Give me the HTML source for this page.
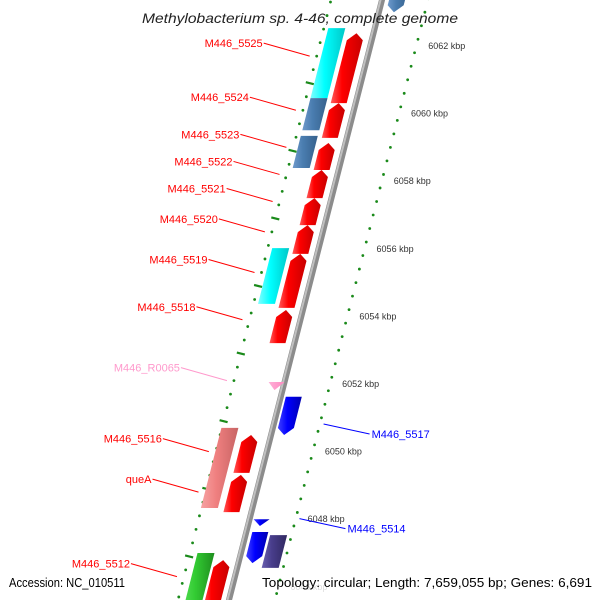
<!DOCTYPE html>
<html><head><meta charset="utf-8">
<style>
html,body{margin:0;padding:0;background:#fff;}
svg{display:block;font-family:"Liberation Sans",sans-serif;}
</style></head>
<body>
<svg id="map" width="600" height="600" viewBox="0 0 600 600" xmlns="http://www.w3.org/2000/svg">
<defs>
<linearGradient id="gRed" x1="0" x2="1" y1="0" y2="0"><stop offset="0" stop-color="#ff5a5a"/><stop offset="0.35" stop-color="#ff0000"/><stop offset="1" stop-color="#c80000"/></linearGradient>
<linearGradient id="gCyan" x1="0" x2="1"><stop offset="0" stop-color="#7fffff"/><stop offset="0.4" stop-color="#00ffff"/><stop offset="1" stop-color="#00c8c8"/></linearGradient>
<linearGradient id="gSteel" x1="0" x2="1"><stop offset="0" stop-color="#6f9acb"/><stop offset="0.4" stop-color="#4a7db0"/><stop offset="1" stop-color="#36618c"/></linearGradient>
<linearGradient id="gSalmon" x1="0" x2="1"><stop offset="0" stop-color="#f6a3a3"/><stop offset="0.4" stop-color="#f08080"/><stop offset="1" stop-color="#c86464"/></linearGradient>
<linearGradient id="gGreen" x1="0" x2="1"><stop offset="0" stop-color="#55dd55"/><stop offset="0.4" stop-color="#33cc33"/><stop offset="1" stop-color="#1f8f1f"/></linearGradient>
<linearGradient id="gBlue" x1="0" x2="1"><stop offset="0" stop-color="#4040ff"/><stop offset="0.4" stop-color="#0000ff"/><stop offset="1" stop-color="#0000b0"/></linearGradient>
<linearGradient id="gPurple" x1="0" x2="1"><stop offset="0" stop-color="#6a5fb0"/><stop offset="0.4" stop-color="#483d8b"/><stop offset="1" stop-color="#302860"/></linearGradient>
<linearGradient id="gPink" x1="0" x2="1"><stop offset="0" stop-color="#ffb0d8"/><stop offset="1" stop-color="#ff88c0"/></linearGradient>
</defs>
<g id="layer"></g>
<text x="142" y="23" textLength="316" lengthAdjust="spacingAndGlyphs" font-size="14" font-style="italic" fill="#222">Methylobacterium sp. 4-46, complete genome</text>
<text x="9" y="587" textLength="116" lengthAdjust="spacingAndGlyphs" font-size="13" fill="#000">Accession: NC_010511</text>
<text x="262" y="587" textLength="330" lengthAdjust="spacingAndGlyphs" font-size="13" fill="#000">Topology: circular; Length: 7,659,055 bp; Genes: 6,691</text>
</svg>
<script>
// Feature data (kbp)
const featNames = ["top-blue","M446_5525-cog","M446_5524-cog","M446_5523-cog","M446_5525","M446_5524","M446_5523","M446_5522","M446_5521","M446_5520","M446_5519","M446_5519-cog","M446_5518","M446_R0065","M446_5517","M446_5516-cog","M446_5516","queA","M446_5514-tri","M446_5514","M446_5514-cog","M446_5512-cog","M446_5512"];
const featStart = [6063.0,6060.46,6059.51,6058.39,6060.31,6059.28,6058.33,6057.50,6056.70,6055.85,6054.25,6054.37,6053.21,6051.82,6050.49,6048.33,6049.37,6048.21,6047.80,6046.70,6046.56,6045.2,6045.2];
const featEnd   = [6063.8,6062.53,6060.46,6059.34,6062.38,6060.31,6059.13,6058.33,6057.50,6056.70,6055.85,6056.02,6054.19,6052.06,6051.62,6050.70,6050.49,6049.31,6048.00,6047.62,6047.53,6047.0,6046.79];
const featLane  = [15,-38,-38,-38,-17,-17,-17,-17,-17,-17,-17,-38,-17,-8,13,-43,-20,-20,12,14,33,-35,-16];
const featKind  = ["rev","box","box","box","fwd","fwd","fwd","fwd","fwd","fwd","fwd","box","fwd","tri","rev","box","fwd","fwd","tri","rev","box","box","fwd"];
const featFill  = ["gSteel","gCyan","gSteel","gSteel","gRed","gRed","gRed","gRed","gRed","gRed","gRed","gCyan","gRed","gPink","gBlue","gSalmon","gRed","gRed","gBlue","gBlue","gPurple","gGreen","gRed"];
// Labels
const labelText = ["M446_5525","M446_5524","M446_5523","M446_5522","M446_5521","M446_5520","M446_5519","M446_5518","M446_R0065","M446_5516","queA","M446_5512","M446_5517","M446_5514"];
const labelKbp  = [6061.7,6060.1,6059.0,6058.2,6057.4,6056.5,6055.3,6053.9,6052.1,6050.0,6048.8,6046.3,6050.55,6047.75];
const labelSide = ["L","L","L","L","L","L","L","L","L","L","L","L","R","R"];
const labelColor= ["#ff0000","#ff0000","#ff0000","#ff0000","#ff0000","#ff0000","#ff0000","#ff0000","#ff99cc","#ff0000","#ff0000","#ff0000","#0000ff","#0000ff"];
// Ruler
const rulerMajorKbp = [6064,6062,6060,6058,6056,6054,6052,6050,6048,6046];
const rulerLabels = ["6064 kbp","6062 kbp","6060 kbp","6058 kbp","6056 kbp","6054 kbp","6052 kbp","6050 kbp","6048 kbp","6046 kbp"];

const NS="http://www.w3.org/2000/svg";
const layer=document.getElementById('layer');
function yOf(k){return 46+(6062-k)*33.8;}
function bx(y){return 382-0.255*y;}
function mk(tag,attrs){const e=document.createElementNS(NS,tag);for(const a in attrs)e.setAttribute(a,attrs[a]);layer.appendChild(e);return e;}

function ring(off,phase,major,name){
  for(let k=6065;k>=6044;k-=0.4){
    const kk=Math.round((k+phase)*10)/10;
    const y=yOf(kk); if(y<-5||y>605)continue;
    const x=bx(y)+off;
    const isMaj=major.some(m=>Math.abs(m-kk)<0.05);
    let e;
    if(isMaj){e=mk('line',{x1:x-4,y1:y-1,x2:x+4,y2:y+1,stroke:'#1a8a1a','stroke-width':2.2});}
    else{e=mk('circle',{cx:x,cy:y,r:1.4,fill:'#1a8a1a'});}
    
    
  }
}
ring(46,0,rulerMajorKbp,'right-ruler-tick');
ring(-51,-0.12,[6060.88,6058.88,6056.88,6054.88,6052.88,6050.88,6048.88,6046.88,6044.88],'left-ruler-tick');
rulerMajorKbp.forEach((k,i)=>{
  const y=yOf(k); if(y<0||y>600)return;
  const t=mk('text',{x:bx(y)+58,y:y+3,'font-size':9,fill:(y>580?'#ddd':'#333')});
  t.textContent=rulerLabels[i];
  
  
});

let d='';for(let y=-10;y<=610;y+=10){d+=(y===-10?'M':'L')+bx(y)+','+y;}
const bb=mk('path',{d:d,stroke:'#8c8c8c','stroke-width':6,fill:'none'});


const bb2=mk('path',{d:d,stroke:'#c0c0c0','stroke-width':2,fill:'none',transform:'translate(-1.5,0)'});



featNames.forEach((n,i)=>{
  const y1=yOf(featEnd[i]), y2=yOf(featStart[i]);
  const o=featLane[i], w=(featKind[i]==='box'?17:16), h=w/2;
  const L=y=>bx(y)+o-h, R=y=>bx(y)+o+h, C=y=>bx(y)+o;
  let pts;
  const a=Math.min(7,(y2-y1)*0.4);
  if(featKind[i]==='fwd'){pts=[[C(y1),y1],[R(y1+a),y1+a],[R(y2),y2],[L(y2),y2],[L(y1+a),y1+a]];}
  else if(featKind[i]==='rev'){pts=[[L(y1),y1],[R(y1),y1],[R(y2-a),y2-a],[C(y2),y2],[L(y2-a),y2-a]];}
  else if(featKind[i]==='tri'){pts=[[L(y1),y1],[R(y1),y1],[C(y2),y2]];}
  else{pts=[[L(y1),y1],[R(y1),y1],[R(y2),y2],[L(y2),y2]];}
  const p=mk('polygon',{points:pts.map(q=>q[0].toFixed(1)+','+q[1].toFixed(1)).join(' '),fill:'url(#'+featFill[i]+')'});
  
  
});

labelText.forEach((t,i)=>{
  const y=yOf(labelKbp[i]);
  let lx1,ly1,lx2,ly2,tx,ty,anchor;
  if(labelSide[i]==='L'){
    lx2=bx(y)-58; ly2=y; lx1=lx2-46; ly1=y-13; tx=lx1-1; ty=ly1+4; anchor='end';
  }else{
    lx1=bx(y)+52; ly1=y-9; lx2=lx1+46; ly2=y+1; tx=lx2+2; ty=ly2+4; anchor='start';
  }
  const l=mk('line',{x1:lx1,y1:ly1,x2:lx2,y2:ly2,stroke:labelColor[i],'stroke-width':1});
  
  
  const tt=mk('text',{x:tx,y:ty,'text-anchor':anchor,'font-size':11,fill:labelColor[i]});
  tt.textContent=t;
  
  
});
</script>
</body></html>
